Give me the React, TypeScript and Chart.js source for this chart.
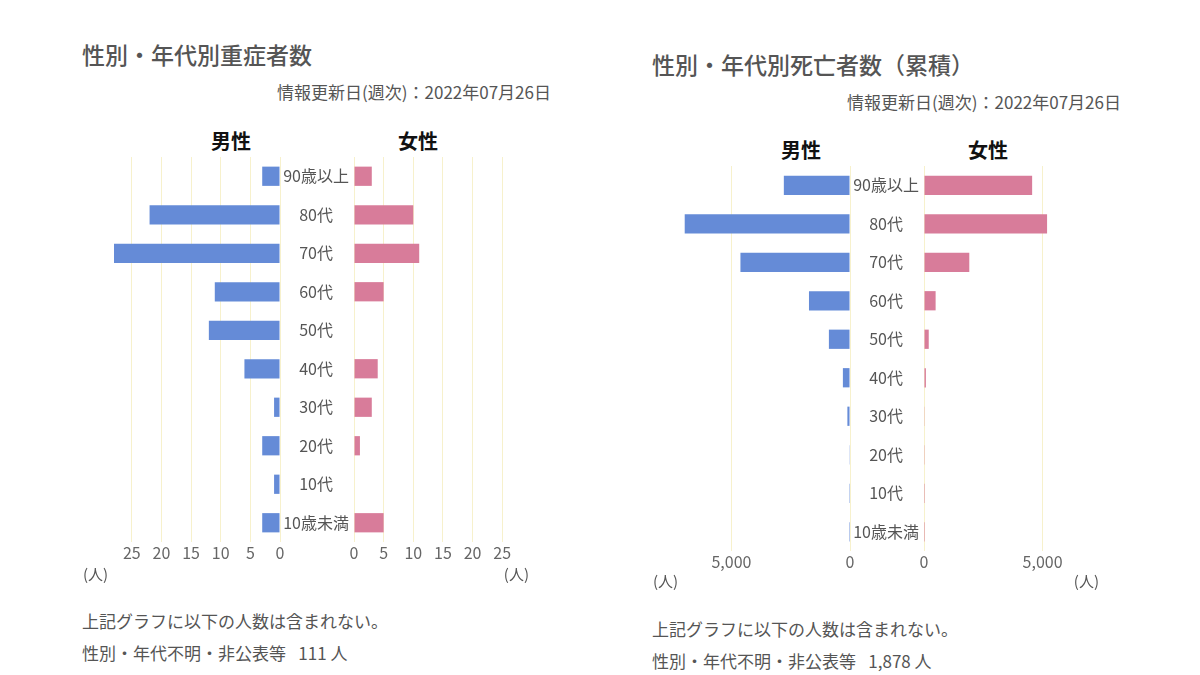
import React, { useEffect, useRef } from 'react';
import { Chart, registerables } from 'chart.js';

Chart.register(...registerables);

const FONT = '"Noto Sans CJK JP", "Noto Sans", sans-serif';
Chart.defaults.font.family = FONT;

// ---- data ----
const ageGroups = ['90歳以上', '80代', '70代', '60代', '50代', '40代', '30代', '20代', '10代', '10歳未満'];
const severeMale = [3, 22, 28, 11, 12, 6, 1, 3, 1, 3];
const severeFemale = [3, 10, 11, 5, 0, 4, 3, 1, 0, 5];
const deathMale = [2790, 6970, 4620, 1730, 890, 300, 110, 30, 5, 2];
const deathFemale = [4560, 5190, 1910, 490, 200, 80, 30, 10, 3, 1];
const severeTicks = [0, 5, 10, 15, 20, 25];
const deathTicks = [0, 5000];
const severeMax = 28;
const deathMax = 7000;
const severeUnknown = '111';
const deathUnknown = '1,878';

// ---- style ----
const MALE_COLOR = '#658bd7';
const FEMALE_COLOR = '#d87c9a';
const GRID_COLOR = '#f7f1cc';
const GAP = 75;
const PLOT_W = 166;
const PLOT_H = 385;
const PAD_TOP = 15;
const AXIS_H = 30;
const SIDE_PAD = 20;

type Spec = {
  values: number[];
  color: string;
  max: number;
  ticks: number[];
  reverse: boolean;
  showCategories: boolean;
};

function BarCanvas({ spec, left, top, width }: { spec: Spec; left: number; top: number; width: number }) {
  const ref = useRef<HTMLCanvasElement>(null);
  useEffect(() => {
    const chart = new Chart(ref.current as HTMLCanvasElement, {
      type: 'bar',
      data: {
        labels: ageGroups,
        datasets: [
          {
            data: spec.values,
            backgroundColor: spec.color,
            borderWidth: 0,
            barPercentage: 0.5,
            categoryPercentage: 1,
          },
        ],
      },
      options: {
        indexAxis: 'y',
        animation: false,
        responsive: true,
        maintainAspectRatio: false,
        layout: {
          padding: { left: spec.showCategories ? 0 : SIDE_PAD, right: SIDE_PAD, top: PAD_TOP, bottom: 0 },
        },
        plugins: { legend: { display: false }, tooltip: { enabled: false }, title: { display: false } },
        scales: {
          x: {
            type: 'linear',
            min: 0,
            max: spec.max,
            reverse: spec.reverse,
            afterBuildTicks: (s: any) => {
              s.ticks = spec.ticks.map((v) => ({ value: v }));
            },
            afterFit: (s: any) => {
              s.height = AXIS_H;
            },
            grid: { color: GRID_COLOR, lineWidth: 1, drawTicks: false },
            border: { display: false },
            ticks: {
              padding: 1,
              color: '#666',
              font: { size: 16 },
              autoSkip: false,
              maxRotation: 0,
              callback: (v: any) => Number(v).toLocaleString('en-US'),
            },
          },
          y: {
            display: spec.showCategories,
            afterFit: (s: any) => {
              if (spec.showCategories) s.width = GAP;
            },
            grid: { display: false, drawTicks: false },
            border: { display: false },
            ticks: {
              crossAlign: 'center',
              padding: 5,
              color: '#555',
              font: { size: 16 },
              autoSkip: false,
            },
          },
        },
      },
    } as any);
    return () => chart.destroy();
  }, []);
  return (
    <div style={{ position: 'absolute', left, top, width, height: PAD_TOP + PLOT_H + AXIS_H }}>
      <canvas ref={ref} />
    </div>
  );
}

function Txt({
  x,
  y,
  size,
  children,
  align = 'left',
  weight = 400,
  color = '#555',
}: {
  x: number;
  y: number;
  size: number;
  children: React.ReactNode;
  align?: 'left' | 'right' | 'center';
  weight?: number;
  color?: string;
}) {
  const base: React.CSSProperties = {
    position: 'absolute',
    top: y - size / 2,
    fontSize: size,
    lineHeight: `${size}px`,
    fontWeight: weight,
    color,
    whiteSpace: 'pre',
    fontFamily: FONT,
  };
  if (align === 'left') return <div style={{ ...base, left: x }}>{children}</div>;
  if (align === 'right') return <div style={{ ...base, left: x - 400, width: 400, textAlign: 'right' }}>{children}</div>;
  return <div style={{ ...base, left: x - 100, width: 200, textAlign: 'center' }}>{children}</div>;
}

type PanelProps = {
  dx: number;
  title: string;
  titleY: number;
  dateY: number;
  sexY: number;
  chartTop: number;
  unitY: number;
  noteY1: number;
  noteY2: number;
  male: number[];
  female: number[];
  max: number;
  ticks: number[];
  unknown: string;
};

function Panel(p: PanelProps) {
  const maleLeft = 114 + p.dx; // plot left edge of male chart
  const zeroMale = maleLeft + PLOT_W;
  const femaleZero = zeroMale + GAP - 1;
  return (
    <>
      <Txt x={82 + p.dx} y={p.titleY} size={23} weight={500} color="#555">
        {p.title}
      </Txt>
      <Txt x={551 + p.dx} y={p.dateY} size={17} align="right">
        情報更新日(週次)：2022年07月26日
      </Txt>
      <Txt x={231 + p.dx} y={p.sexY} size={20} weight={700} color="#111" align="center">
        男性
      </Txt>
      <Txt x={418 + p.dx} y={p.sexY} size={20} weight={700} color="#111" align="center">
        女性
      </Txt>
      <BarCanvas
        spec={{ values: p.male, color: MALE_COLOR, max: p.max, ticks: p.ticks, reverse: true, showCategories: false }}
        left={maleLeft - SIDE_PAD}
        top={p.chartTop - PAD_TOP}
        width={PLOT_W + 2 * SIDE_PAD}
      />
      <BarCanvas
        spec={{ values: p.female, color: FEMALE_COLOR, max: p.max, ticks: p.ticks, reverse: false, showCategories: true }}
        left={femaleZero - GAP}
        top={p.chartTop - PAD_TOP}
        width={GAP + PLOT_W + SIDE_PAD}
      />
      <Txt x={83 + p.dx} y={p.unitY} size={15}>
        (人)
      </Txt>
      <Txt x={529 + p.dx} y={p.unitY} size={15} align="right">
        (人)
      </Txt>
      <Txt x={82 + p.dx} y={p.noteY1} size={17}>
        上記グラフに以下の人数は含まれない。
      </Txt>
      <Txt x={82 + p.dx} y={p.noteY2} size={17}>
        {`性別・年代不明・非公表等\u2002 ${p.unknown} 人`}
      </Txt>
    </>
  );
}

export default function App() {
  return (
    <div
      style={{
        position: 'absolute',
        left: 0,
        top: 0,
        width: 1200,
        height: 675,
        background: '#fff',
        overflow: 'hidden',
        fontFamily: FONT,
      }}
    >
      <Panel
        dx={0}
        title="性別・年代別重症者数"
        titleY={54}
        dateY={91.5}
        sexY={141}
        chartTop={157}
        unitY={573}
        noteY1={620}
        noteY2={652}
        male={severeMale}
        female={severeFemale}
        max={severeMax}
        ticks={severeTicks}
        unknown={severeUnknown}
      />
      <Panel
        dx={570}
        title="性別・年代別死亡者数（累積）"
        titleY={64}
        dateY={101.5}
        sexY={150}
        chartTop={166}
        unitY={580}
        noteY1={628}
        noteY2={660}
        male={deathMale}
        female={deathFemale}
        max={deathMax}
        ticks={deathTicks}
        unknown={deathUnknown}
      />
    </div>
  );
}
